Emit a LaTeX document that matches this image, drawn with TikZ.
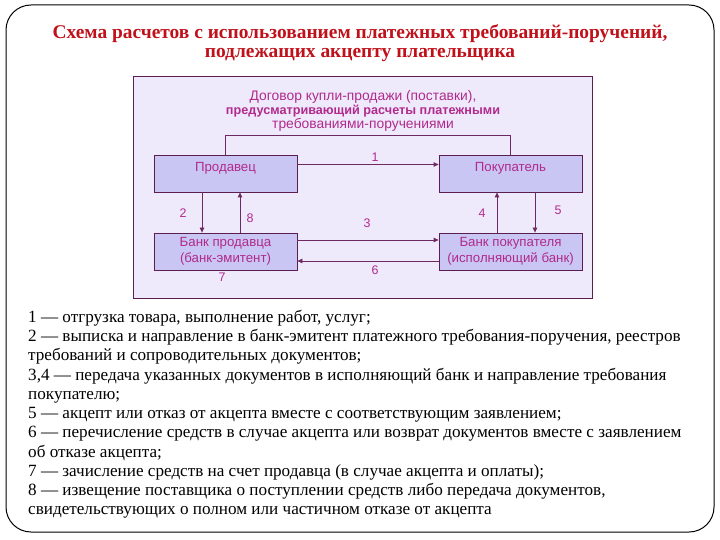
\documentclass[tikz,border=0pt]{standalone}
\usepackage{fontspec}
\setmainfont{Liberation Serif}
\newfontfamily\schemefont{Liberation Sans}
\usetikzlibrary{arrows.meta,positioning}

\definecolor{titlered}{HTML}{C0101A}
\definecolor{framepurple}{HTML}{5A1E50}
\definecolor{panelfill}{HTML}{EEEAFB}
\definecolor{boxfill}{HTML}{C9C6F3}
\definecolor{textmag}{HTML}{B12A8C}
\definecolor{arrowcol}{HTML}{6E2A60}

\begin{document}
\begin{tikzpicture}[x=1bp, y=-1bp,
    party/.style={rectangle, draw=framepurple, fill=boxfill, line width=0.8bp, minimum width=143bp, minimum height=37bp, inner sep=0pt, font=\schemefont\fontsize{13.3}{16}\selectfont, text=textmag, align=center},
    partylabel/.style={anchor=north, yshift=-4.5bp, font=\schemefont\fontsize{13.3}{16}\selectfont, text=textmag},
    flow/.style={-{Triangle[length=5bp,width=4.5bp]}, color=arrowcol, line width=0.8bp},
    num/.style={font=\schemefont\fontsize{12.5}{15}\selectfont, text=textmag, inner sep=0pt}
]
\useasboundingbox (0,0) rectangle (720,540);

% outer frame and title
\draw[line width=1bp, rounded corners=25bp] (6,5) rectangle (714,532);
\node[font=\bfseries\fontsize{19.5}{19.5}\selectfont, text=titlered, align=center] (title) at (360,43)
    {Схема расчетов с использованием платежных требований-поручений,\\подлежащих акцепту плательщика};

% contract panel
\node[draw=framepurple, fill=panelfill, line width=1bp, minimum width=458bp, minimum height=221bp, inner sep=0pt] (panel) at (363,187.5) {};
\node[font=\schemefont\fontsize{13.9}{14}\selectfont, text=textmag, align=center] (contract) at (363,110.5)
    {Договор купли-продажи (поставки),\\{\bfseries\fontsize{12.7}{14}\selectfont предусматривающий расчеты платежными}\\требованиями-поручениями};

% parties and banks
\node[party, label={[partylabel]north:Продавец}] (seller) at (225.5,173.5) {};
\node[party, label={[partylabel]north:Покупатель}] (buyer) at (510.5,173.5) {};
\node[party] (bankS) at (225.5,251.5) {Банк продавца\\(банк-эмитент)};
\node[party] (bankB) at (510.5,251.5) {Банк покупателя\\(исполняющий банк)};

\coordinate (bar) at (0,135);
\draw[arrowcol, line width=0.8bp] (seller.north) -- (seller.north |- bar) -| (buyer.north);

% flows
\draw[flow] ([yshift=9bp]seller.east) -- ([yshift=9bp]buyer.west);
\draw[flow] ([xshift=-23.5bp]seller.south) -- ([xshift=-23.5bp]bankS.north);
\draw[flow] ([xshift=14.5bp]bankS.north) -- ([xshift=14.5bp]seller.south);
\draw[flow] ([yshift=11.5bp]bankS.east) -- ([yshift=11.5bp]bankB.west);
\draw[flow] ([yshift=-9.5bp]bankB.west) -- ([yshift=-9.5bp]bankS.east);
\draw[flow] ([xshift=-13.5bp]bankB.north) -- ([xshift=-13.5bp]buyer.south);
\draw[flow] ([xshift=24.5bp]buyer.south) -- ([xshift=24.5bp]bankB.north);

% step numbers
\node[num] (n1) at (375,157) {1};
\node[num] (n2) at (183,213) {2};
\node[num] (n3) at (367,223) {3};
\node[num] (n4) at (482,213) {4};
\node[num] (n5) at (558,210) {5};
\node[num] (n6) at (375,270) {6};
\node[num] (n7) at (222,277) {7};
\node[num] (n8) at (250,218) {8};

% legend
\node[anchor=north west, align=left, inner sep=0pt, font=\fontsize{17.2}{19.3}\selectfont] (legend) at (28,310)
    {1 — отгрузка товара, выполнение работ, услуг;\\
     2 — выписка и направление в банк-эмитент платежного требования-поручения, реестров\\
     требований и сопроводительных документов;\\
     3,4 — передача указанных документов в исполняющий банк и направление требования\\
     покупателю;\\
     5 — акцепт или отказ от акцепта вместе с соответствующим заявлением;\\
     6 — перечисление средств в случае акцепта или возврат документов вместе с заявлением\\
     об отказе акцепта;\\
     7 — зачисление средств на счет продавца (в случае акцепта и оплаты);\\
     8 — извещение поставщика о поступлении средств либо передача документов,\\
     свидетельствующих о полном или частичном отказе от акцепта};
\end{tikzpicture}
\end{document}
